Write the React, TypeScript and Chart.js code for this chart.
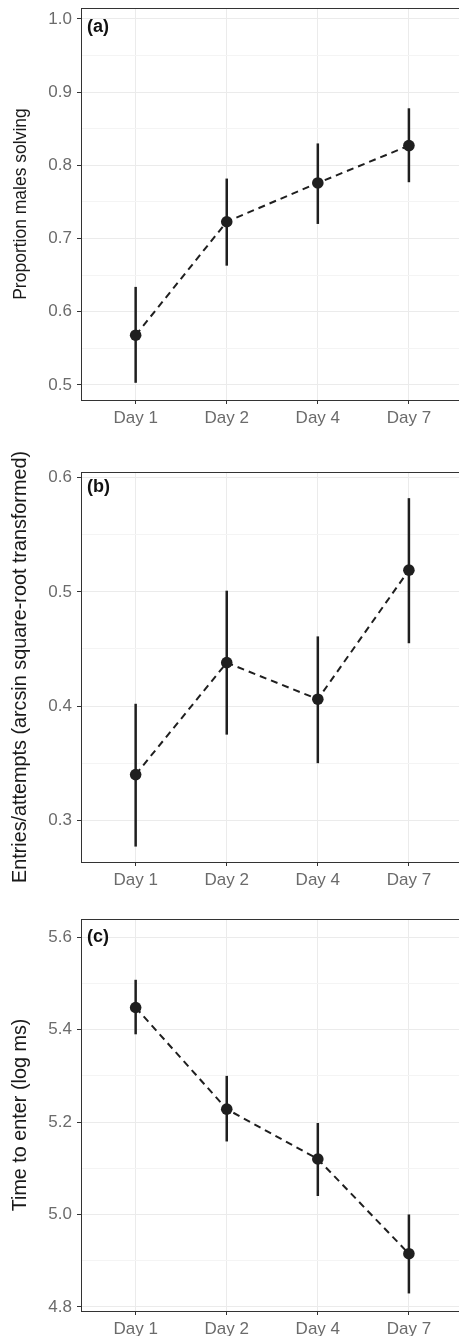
import React, { useEffect, useRef } from "react";
import { Chart, registerables } from "chart.js";

Chart.register(...registerables);

// ---------- data ----------
const days = ["Day 1", "Day 2", "Day 4", "Day 7"];
const dayPos = [1, 2, 3, 4];

const aMean = [0.568, 0.723, 0.776, 0.827];
const aLow = [0.503, 0.663, 0.72, 0.777];
const aHigh = [0.634, 0.782, 0.83, 0.878];
const aMajor = [0.5, 0.6, 0.7, 0.8, 0.9, 1.0];
const aMinor = [0.55, 0.65, 0.75, 0.85, 0.95];

const bMean = [0.34, 0.438, 0.406, 0.519];
const bLow = [0.277, 0.375, 0.35, 0.455];
const bHigh = [0.402, 0.501, 0.461, 0.582];
const bMajor = [0.3, 0.4, 0.5, 0.6];
const bMinor = [0.35, 0.45, 0.55];

const cMean = [5.448, 5.228, 5.12, 4.915];
const cLow = [5.39, 5.158, 5.04, 4.829];
const cHigh = [5.508, 5.3, 5.198, 5.0];
const cMajor = [4.8, 5.0, 5.2, 5.4, 5.6];
const cMinor = [4.9, 5.1, 5.3, 5.5];

const FONT = "'Liberation Sans', Arial, Helvetica, sans-serif";
const INK = "#1f1f1f";

const errPlugin = {
  id: "errbars",
  beforeDatasetsDraw(chart: any, _args: any, opts: any) {
    const { ctx, scales } = chart;
    if (!opts || !opts.lo) return;
    ctx.save();
    ctx.strokeStyle = INK;
    ctx.lineWidth = 2.5;
    opts.lo.forEach((lo: number, i: number) => {
      const x = scales.x.getPixelForValue(dayPos[i]);
      ctx.beginPath();
      ctx.moveTo(x, scales.y.getPixelForValue(lo));
      ctx.lineTo(x, scales.y.getPixelForValue(opts.hi[i]));
      ctx.stroke();
    });
    ctx.restore();
  },
};

const framePlugin = {
  id: "frame",
  afterDraw(chart: any, _args: any, opts: any) {
    const { ctx, chartArea } = chart;
    ctx.save();
    ctx.strokeStyle = "#333333";
    ctx.lineWidth = 1;
    ctx.beginPath();
    ctx.moveTo(chartArea.left, chartArea.top + 0.5);
    ctx.lineTo(chartArea.right, chartArea.top + 0.5);
    ctx.stroke();
    if (opts && opts.label) {
      ctx.fillStyle = "#111111";
      ctx.font = `bold 18px ${FONT}`;
      ctx.textBaseline = "middle";
      ctx.textAlign = "left";
      ctx.fillText(opts.label, chartArea.left + 6, chartArea.top + opts.dy);
    }
    ctx.restore();
  },
};

type PanelCfg = {
  mean: number[];
  lo: number[];
  hi: number[];
  major: number[];
  minor: number[];
  yMin: number;
  yMax: number;
  title: string;
  titleSize: number;
  label: string;
  labelDy: number;
  padTop: number;
  xHeight: number;
  top: number;
  height: number;
};

function Panel({ cfg }: { cfg: PanelCfg }) {
  const ref = useRef<HTMLCanvasElement | null>(null);
  useEffect(() => {
    if (!ref.current) return;
    const all = [...cfg.major.map((v) => ({ v, m: true })), ...cfg.minor.map((v) => ({ v, m: false }))].sort(
      (p, q) => p.v - q.v
    );
    const lh = cfg.titleSize * 1.2;
    const chart = new Chart(ref.current, {
      type: "line",
      data: {
        datasets: [
          {
            data: cfg.mean.map((y, i) => ({ x: dayPos[i], y })),
            borderColor: INK,
            borderWidth: 2,
            borderDash: [7, 5],
            pointRadius: 5.8,
            pointBackgroundColor: INK,
            pointBorderWidth: 0,
            tension: 0,
            fill: false,
          },
        ],
      },
      plugins: [errPlugin, framePlugin],
      options: {
        animation: false,
        responsive: false,
        layout: { autoPadding: false, padding: { top: cfg.padTop, left: 0, right: 0, bottom: 0 } },
        plugins: {
          legend: { display: false },
          tooltip: { enabled: false },
          errbars: { lo: cfg.lo, hi: cfg.hi },
          frame: { label: cfg.label, dy: cfg.labelDy },
        } as any,
        scales: {
          x: {
            type: "linear",
            min: 0.4,
            max: 4.55,
            afterBuildTicks: (s: any) => {
              s.ticks = dayPos.map((v) => ({ value: v }));
            },
            afterFit: (s: any) => {
              s.height = cfg.xHeight;
              s.paddingLeft = 0;
              s.paddingRight = 0;
            },
            ticks: {
              autoSkip: false,
              maxRotation: 0,
              padding: 4,
              color: "#6b6b6b",
              font: { family: FONT, size: 17 },
              callback: (_v: any, i: number) => days[i],
            },
            grid: {
              color: "#ebebeb",
              lineWidth: 1,
              tickColor: "#333333",
              tickLength: 4,
            },
            border: { color: "#333333", width: 1 },
          },
          y: {
            type: "linear",
            min: cfg.yMin,
            max: cfg.yMax,
            afterBuildTicks: (s: any) => {
              s.ticks = all.map((t) => ({ value: t.v }));
            },
            afterFit: (s: any) => {
              s.width = 81;
              s.paddingTop = 0;
              s.paddingBottom = 0;
            },
            ticks: {
              autoSkip: false,
              padding: 5,
              color: "#6b6b6b",
              font: { family: FONT, size: 17 },
              callback: (v: any, i: number) => (all[i] && all[i].m ? Number(v).toFixed(1) : ""),
            },
            grid: {
              color: (c: any) => (all[c.index] && all[c.index].m ? "#ebebeb" : "#f4f4f4"),
              lineWidth: 1,
              tickColor: (c: any) => (all[c.index] && all[c.index].m ? "#333333" : "rgba(0,0,0,0)"),
              tickLength: 4,
            },
            border: { color: "#333333", width: 1 },
            title: {
              display: true,
              text: cfg.title,
              color: "#1a1a1a",
              font: { family: FONT, size: cfg.titleSize, lineHeight: 1.2 },
              padding: { top: 21 - lh / 2, bottom: 0 },
            },
          },
        },
      } as any,
    });
    return () => chart.destroy();
  }, [cfg]);
  return (
    <canvas
      ref={ref}
      width={459}
      height={cfg.height}
      style={{ position: "absolute", left: 0, top: cfg.top, width: 459, height: cfg.height }}
    />
  );
}

const panels: PanelCfg[] = [
  {
    mean: aMean, lo: aLow, hi: aHigh, major: aMajor, minor: aMinor,
    yMin: 0.4795, yMax: 1.015, title: "Proportion males solving", titleSize: 17.5, label: "(a)", labelDy: 19.5,
    padTop: 8, xHeight: 40, top: 0, height: 440,
  },
  {
    mean: bMean, lo: bLow, hi: bHigh, major: bMajor, minor: bMinor,
    yMin: 0.2635, yMax: 0.6049, title: "Entries/attempts (arcsin square-root transformed)", titleSize: 19.8, label: "(b)", labelDy: 15,
    padTop: 32, xHeight: 40, top: 440, height: 462,
  },
  {
    mean: cMean, lo: cLow, hi: cHigh, major: cMajor, minor: cMinor,
    yMin: 4.791, yMax: 5.6396, title: "Time to enter (log ms)", titleSize: 19.8, label: "(c)", labelDy: 18,
    padTop: 17, xHeight: 25, top: 902, height: 434,
  },
];

export default function App() {
  return (
    <div style={{ position: "absolute", left: 0, top: 0, width: 459, height: 1336, background: "#ffffff", overflow: "hidden" }}>
      {panels.map((p, i) => (
        <Panel key={i} cfg={p} />
      ))}
    </div>
  );
}
